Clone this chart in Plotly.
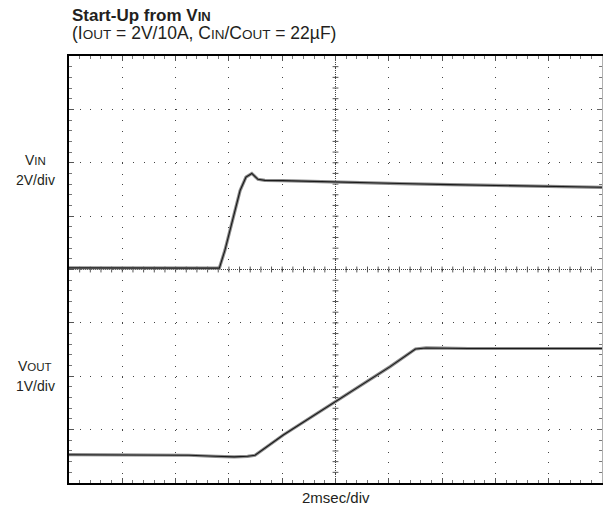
import plotly.graph_objects as go

# ---- data (time in ms, 2 ms/div; voltages in V) ----
vin_t = [0, 1.5, 3.0, 4.5, 5.64, 5.85, 6.04, 6.23, 6.42, 6.64, 6.86, 7.09, 7.35,
         8.0, 8.66, 10.0, 11.5, 12.4, 14.3, 16.2, 18.0, 20.0]
vin_v = [0.06, 0.05, 0.06, 0.05, 0.05, 0.72, 1.48, 2.22, 2.96, 3.46, 3.60, 3.38, 3.34,
         3.33, 3.31, 3.28, 3.25, 3.22, 3.18, 3.14, 3.11, 3.08]

vout_t = [0, 1.5, 3.0, 4.5, 5.5, 6.2, 6.7, 6.98, 8.04, 10.05, 12.05, 13.0, 13.4,
          15.0, 17.0, 18.0, 20.0]
vout_v = [0.03, 0.03, 0.02, 0.02, 0.0, -0.01, 0.0, 0.02, 0.40, 1.04, 1.68, 2.01, 2.03,
          2.02, 2.02, 2.03, 2.02]

x_range = [0, 20]        # 10 div x 2 ms
vin_range = [-8, 8]      # 8 div x 2 V, 0 V at centre
vout_range = [-0.5, 7.5] # 8 div x 1 V, 0 V half a div above bottom

FONT = "Liberation Sans, Arial, sans-serif"
TXT = "#231f20"

fig = go.Figure()

for t, v, ax in [(vin_t, vin_v, "y"), (vout_t, vout_v, "y2")]:
    fig.add_trace(go.Scatter(x=t, y=v, yaxis=ax, mode="lines",
                             line=dict(color="#8c8c8c", width=3.2),
                             hoverinfo="skip", showlegend=False))
    fig.add_trace(go.Scatter(x=t, y=v, yaxis=ax, mode="lines",
                             line=dict(color="#1a1a1a", width=1.1),
                             showlegend=False))

# centre cross (dense dotted with small ticks)
shapes = [
    dict(type="line", xref="x", yref="y", x0=10, x1=10, y0=-8, y1=8,
         line=dict(color="#444", width=1, dash="1px,1px"), layer="below"),
    dict(type="line", xref="x", yref="y", x0=0, x1=20, y0=0, y1=0,
         line=dict(color="#444", width=1, dash="1px,1px"), layer="below"),
]
for i in range(1, 50):
    xv = i * 0.4
    shapes.append(dict(type="line", xref="x", yref="y", x0=xv, x1=xv, y0=-0.11, y1=0.11,
                       line=dict(color="#555", width=1), layer="below"))
for j in range(1, 40):
    yv = -8 + j * 0.4
    shapes.append(dict(type="line", xref="x", yref="y", x0=9.89, x1=10.11, y0=yv, y1=yv,
                       line=dict(color="#555", width=1), layer="below"))

def px_x(px):
    return (px - 69) / 533.0

def px_y(py):
    return (483.3 - py) / 427.6

def ann(text, x, y, size=14, xanchor="center", align="center"):
    return dict(text=text, x=x, y=y, xref="paper", yref="paper", showarrow=False,
                xanchor=xanchor, yanchor="middle", align=align,
                font=dict(family=FONT, size=size, color=TXT))

title_txt = ("<span style='font-size:17px'><b>Start-Up from V"
             "<span style='font-size:13px'>IN</span></b></span><br>"
             "<span style='font-size:17.5px'>(I<span style='font-size:13.5px'>OUT</span>"
             " = 2V/10A, C<span style='font-size:13.5px'>IN</span>/C"
             "<span style='font-size:13.5px'>OUT</span> = 22µF)</span>")

annotations = [
    ann(title_txt, px_x(70), px_y(24.5), 13.6, "left", "left"),
    ann("V<span style='font-size:11.5px'>IN</span>", px_x(35), px_y(160), 14),
    ann("2V/div", px_x(35), px_y(180), 14),
    ann("V<span style='font-size:11.5px'>OUT</span>", px_x(35), px_y(366), 14),
    ann("1V/div", px_x(35), px_y(386), 14),
    ann("2msec/div", 0.5, px_y(497.5), 15),
]

fig.update_layout(
    width=605, height=508,
    margin=dict(l=69, r=3, t=56, b=25),
    paper_bgcolor="white", plot_bgcolor="white",
    shapes=shapes, annotations=annotations,
    xaxis=dict(range=x_range, dtick=2, tick0=0, showticklabels=False,
               showgrid=True, gridcolor="#444", gridwidth=1, griddash="1px,9.69px",
               zeroline=False, showline=True, linecolor="black", linewidth=2,
               mirror="ticks", ticks="inside", ticklen=5, tickcolor="#555",
               minor=dict(ticks="inside", dtick=0.4, ticklen=3, tickcolor="#777",
                          showgrid=False),
               fixedrange=True),
    yaxis=dict(range=vin_range, dtick=2, tick0=0, showticklabels=False,
               showgrid=True, gridcolor="#444", gridwidth=1, griddash="1px,9.66px",
               zeroline=False, showline=True, linecolor="black", linewidth=2,
               ticks="inside", ticklen=5, tickcolor="#555",
               minor=dict(ticks="inside", dtick=0.4, ticklen=3, tickcolor="#777",
                          showgrid=False),
               fixedrange=True),
    yaxis2=dict(range=vout_range, overlaying="y", side="right", anchor="x",
                tick0=-0.5, dtick=1, showticklabels=False, showgrid=False,
                zeroline=False, showline=True, linecolor="#b0b0b0", linewidth=1,
                ticks="inside", ticklen=5, tickcolor="#666",
                minor=dict(ticks="inside", dtick=0.2, tick0=-0.5, ticklen=3,
                           tickcolor="#777", showgrid=False),
                fixedrange=True),
)

fig.write_html("out.html", config={"displayModeBar": False},
               post_script="document.body.style.margin='0px';")
